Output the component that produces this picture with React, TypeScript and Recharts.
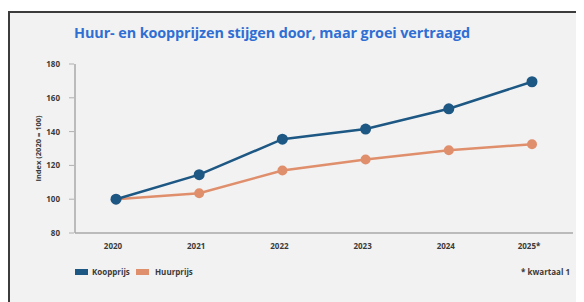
import React from "react";
import { LineChart, Line, XAxis, YAxis, Legend } from "recharts";

const years = ["2020", "2021", "2022", "2023", "2024", "2025*"];
const koopprijs = [100, 114.5, 135.5, 141.5, 153.5, 169.5];
const huurprijs = [100, 103.5, 117, 123.5, 129, 132.5];
const yTicks = [80, 100, 120, 140, 160, 180];

const data = years.map((y, i) => ({ year: y, koop: koopprijs[i], huur: huurprijs[i] }));

const BLUE = "#1d5783";
const ORANGE = "#e08f6c";
const FONT = "'Open Sans', 'DejaVu Sans', sans-serif";

const YTick = (props: any) => {
  const { x, y, payload } = props;
  return (
    <g>
      <line x1={x + 2} x2={x + 7} y1={y} y2={y} stroke="#b0b0b0" strokeWidth={1} />
      <text x={x - 7} y={y} dy={3} textAnchor="end" fontSize={8} fontWeight={700} fill="#3a3a3a" fontFamily={FONT}>
        {payload.value}
      </text>
    </g>
  );
};

const XTick = (props: any) => {
  const { x, y, payload } = props;
  return (
    <text x={x - 3} y={y} dy={8} textAnchor="middle" fontSize={8} fontWeight={700} fill="#3a3a3a" fontFamily={FONT}>
      {payload.value}
    </text>
  );
};

const LegendContent = () => (
  <div style={{ position: "relative", width: 584, height: 14, fontFamily: FONT, fontSize: 8, fontWeight: 700, color: "#3a3a3a" }}>
    <div style={{ position: "absolute", left: 75, top: 3, width: 13, height: 6, background: BLUE }} />
    <div style={{ position: "absolute", left: 92, top: 0, lineHeight: "12px" }}>Koopprijs</div>
    <div style={{ position: "absolute", left: 136, top: 3, width: 13, height: 6, background: ORANGE }} />
    <div style={{ position: "absolute", left: 155, top: 0, lineHeight: "12px" }}>Huurprijs</div>
    <div style={{ position: "absolute", right: 14, top: 0, lineHeight: "12px" }}>* kwartaal 1</div>
  </div>
);

export default function App() {
  return (
    <div style={{ position: "relative", width: 584, height: 302, margin: "-8px 0 0 -8px", background: "#ffffff", overflow: "hidden" }}>
      <div
        style={{
          position: "absolute",
          left: 8,
          top: 11,
          width: 600,
          height: 320,
          background: "#f2f2f2",
          borderLeft: "2px solid #3c3c3c",
          borderTop: "2px solid #3c3c3c",
        }}
      />
      <div
        style={{
          position: "absolute",
          left: 74,
          top: 23,
          fontFamily: FONT,
          fontWeight: 700,
          fontSize: 14.4,
          color: "#2f6fd4",
          whiteSpace: "nowrap",
          letterSpacing: -0.1,
        }}
      >
        Huur- en koopprijzen stijgen door, maar groei vertraagd
      </div>
      <div style={{ position: "absolute", left: 0, top: 0 }}>
        <LineChart width={584} height={302} data={data} margin={{ top: 64, right: 11, bottom: 35, left: 0 }}>
          <XAxis
            dataKey="year"
            axisLine={{ stroke: "#a8a8a8", strokeWidth: 1.5 }}
            tickLine={false}
            tick={<XTick />}
            height={20}
            padding={{ left: 41, right: 41 }}
          />
          <YAxis
            domain={[80, 180]}
            ticks={yTicks}
            width={75}
            axisLine={{ stroke: "#a8a8a8", strokeWidth: 1.5 }}
            tickLine={false}
            tick={<YTick />}
            label={{
              value: "Index (2020 = 100)",
              angle: -90,
              position: "insideLeft",
              offset: 38,
              style: { fontSize: 7.5, fontFamily: FONT, fontWeight: 700, fill: "#3a3a3a", textAnchor: "middle" },
            }}
          />
          <Legend verticalAlign="bottom" align="left" wrapperStyle={{ left: 0, top: 266, width: 584 }} content={<LegendContent />} />
          <Line
            dataKey="huur"
            stroke={ORANGE}
            strokeWidth={2.5}
            dot={{ r: 5, fill: ORANGE, stroke: ORANGE, strokeWidth: 0 }}
            isAnimationActive={false}
          />
          <Line
            dataKey="koop"
            stroke={BLUE}
            strokeWidth={2.5}
            dot={{ r: 5.5, fill: BLUE, stroke: BLUE, strokeWidth: 0 }}
            isAnimationActive={false}
          />
        </LineChart>
      </div>
    </div>
  );
}
